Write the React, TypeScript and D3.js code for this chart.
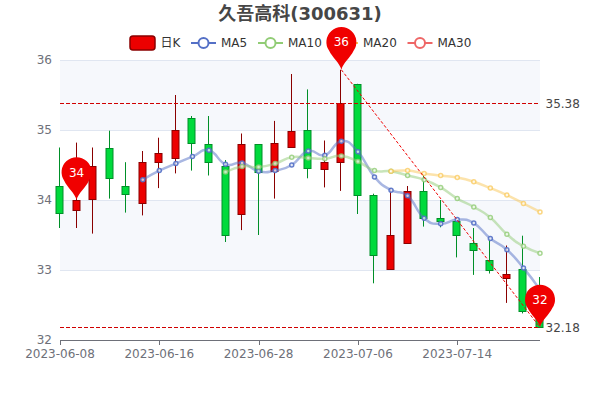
import React from 'react';
import * as d3 from 'd3';

const WIDTH = 600;
const HEIGHT = 400;
const margin = { top: 60, right: 60, bottom: 60, left: 60 };

const title = '久吾高科(300631)';

const dates = [
  '2023-06-08', '2023-06-09', '2023-06-12', '2023-06-13', '2023-06-14', '2023-06-15',
  '2023-06-16', '2023-06-19', '2023-06-20', '2023-06-21', '2023-06-26', '2023-06-27',
  '2023-06-28', '2023-06-29', '2023-06-30', '2023-07-03', '2023-07-04', '2023-07-05',
  '2023-07-06', '2023-07-07', '2023-07-10', '2023-07-11', '2023-07-12', '2023-07-13',
  '2023-07-14', '2023-07-17', '2023-07-18', '2023-07-19', '2023-07-20', '2023-07-21',
];

// open, close, low, high per day
const opens = [
  34.2, 33.85, 34.01, 34.74, 34.2, 33.96, 34.55, 34.6, 35.17, 34.8,
  34.49, 33.8, 34.8, 34.42, 34.76, 35.0, 34.44, 34.55, 35.66, 34.07,
  33.02, 33.38, 34.13, 33.74, 33.7, 33.39, 33.14, 32.89, 33.01, 32.42,
];
const closes = [
  33.82, 34.0, 34.48, 34.31, 34.09, 34.55, 34.67, 35.0, 34.81, 34.55,
  33.5, 34.8, 34.4, 34.81, 34.99, 34.45, 34.55, 35.38, 34.07, 33.22,
  33.5, 34.13, 33.74, 33.7, 33.5, 33.28, 33.0, 32.94, 32.42, 32.18,
];
const lows = [
  33.6, 33.6, 33.52, 34.02, 33.82, 33.78, 34.17, 34.38, 34.42, 34.35,
  33.4, 33.57, 33.5, 34.02, 34.76, 34.31, 34.18, 34.13, 33.8, 32.81,
  33.02, 33.38, 33.62, 33.61, 33.18, 32.93, 32.95, 32.53, 32.38, 32.18,
];
const highs = [
  34.75, 34.82, 34.75, 34.99, 34.54, 34.7, 34.89, 35.5, 35.2, 35.2,
  34.57, 34.95, 34.8, 35.13, 35.8, 35.58, 34.85, 35.86, 35.66, 34.09,
  34.17, 34.2, 34.36, 34.0, 33.7, 33.6, 33.45, 33.35, 33.49, 32.9,
];

const ma5 = [
  null, null, null, null, null, 34.29, 34.42, 34.52, 34.62, 34.71,
  34.51, 34.53, 34.41, 34.42, 34.5, 34.7, 34.64, 34.84, 34.69, 34.33,
  34.14, 34.06, 33.74, 33.66, 33.72, 33.67, 33.45, 33.29, 33.03, 32.72,
];
const ma10 = [
  null, null, null, null, null, null, null, null, null, null,
  34.4, 34.48, 34.47, 34.52, 34.61, 34.6, 34.59, 34.63, 34.55, 34.42,
  34.41, 34.35, 34.29, 34.18, 34.02, 33.9, 33.75, 33.51, 33.34, 33.24,
];
const ma20 = [
  null, null, null, null, null, null, null, null, null, null,
  null, null, null, null, null, null, null, null, null, null,
  34.41, 34.42, 34.38, 34.35, 34.32, 34.26, 34.17, 34.07, 33.95, 33.83,
];

const yTicks = [32, 33, 34, 35, 36];
const xTickIndexes = [0, 6, 12, 18, 24];

const UP = '#ec0000';
const UP_BORDER = '#8a0000';
const DOWN = '#00da3c';
const DOWN_BORDER = '#008f28';
const MARK = '#d00000';
const PIN = '#f00000';
const AXIS = '#6e7079';

const lineSeries = [
  { name: 'MA5', values: ma5, color: '#5470c6', ring: 0.9 },
  { name: 'MA10', values: ma10, color: '#91cc75', ring: 0.8 },
  { name: 'MA20', values: ma20, color: '#fac858', ring: 0.75 },
];
const legendLines = [
  { name: 'MA5', color: '#5470c6', x: 191 },
  { name: 'MA10', color: '#91cc75', x: 258 },
  { name: 'MA20', color: '#fac858', x: 333 },
  { name: 'MA30', color: '#ee6666', x: 407.5 },
];

const font = '"DejaVu Sans", "Noto Sans CJK SC", sans-serif';

// teardrop with its tip on the given point
function pinPath(cx: number, tipY: number, r: number) {
  const cy = tipY - r * 1.85;
  const a = 0.62;
  const sx = r * Math.cos(a);
  const sy = r * Math.sin(a);
  const p = d3.path();
  p.moveTo(cx - sx, cy + sy);
  p.arc(cx, cy, r, Math.PI - a, a);
  p.bezierCurveTo(cx + sx * 0.75, cy + sy + r * 0.45, cx + 1.5, tipY - r * 0.45, cx, tipY);
  p.bezierCurveTo(cx - 1.5, tipY - r * 0.45, cx - sx * 0.75, cy + sy + r * 0.45, cx - sx, cy + sy);
  p.closePath();
  return { d: p.toString(), cy };
}

export default function App() {
  const x = d3.scalePoint<number>()
    .domain(d3.range(dates.length))
    .range([margin.left, WIDTH - margin.right]);
  const y = d3.scaleLinear()
    .domain([32, 36])
    .range([HEIGHT - margin.bottom, margin.top]);

  const line = d3.line<number | null>()
    .defined(d => d !== null)
    .x((_, i) => x(i)!)
    .y(d => y(d as number))
    .curve(d3.curveCardinal.tension(-0.5));

  const bodyWidth = 7;
  const maxClose = d3.max(closes)!;
  const minClose = d3.min(closes)!;
  const maxIdx = highs.indexOf(d3.max(highs)!);
  const lastIdx = dates.length - 1;

  const pins = [
    { idx: maxIdx, value: highs[maxIdx], label: '36' },
    { idx: 1, value: closes[1], label: '34' },
    { idx: lastIdx, value: minClose, label: '32' },
  ];

  return (
    <svg width={WIDTH} height={HEIGHT} viewBox={`0 0 ${WIDTH} ${HEIGHT}`}
      style={{ position: 'absolute', left: 0, top: 0, fontFamily: font }}>
      <rect width={WIDTH} height={HEIGHT} fill="#fff" />

      {/* alternating bands */}
      {[35, 33].map(t => (
        <rect key={t} x={margin.left} width={WIDTH - margin.left - margin.right}
          y={y(t + 1)} height={y(t) - y(t + 1)} fill="#f6f8fc" />
      ))}
      {yTicks.map(t => (
        <g key={t}>
          {t > 32 && <line x1={margin.left} x2={WIDTH - margin.right} y1={y(t) + 0.5} y2={y(t) + 0.5} stroke="#e0e6f1" />}
          <text x={52} y={y(t)} dy="0.36em" textAnchor="end" fontSize={12} fill={AXIS}>{t}</text>
        </g>
      ))}

      {/* x axis */}
      <line x1={margin.left} x2={WIDTH - margin.right} y1={y(32) + 0.5} y2={y(32) + 0.5} stroke={AXIS} />
      {xTickIndexes.map(i => (
        <g key={i}>
          <line x1={Math.round(x(i)!) + 0.5} x2={Math.round(x(i)!) + 0.5} y1={y(32)} y2={y(32) + 5} stroke={AXIS} />
          <text x={x(i)!} y={y(32) + 18} textAnchor="middle" fontSize={12} fill={AXIS}>{dates[i]}</text>
        </g>
      ))}

      {/* candles */}
      {dates.map((_, i) => {
        const up = closes[i] >= opens[i];
        const stroke = up ? UP_BORDER : DOWN_BORDER;
        const top = Math.round(y(Math.max(opens[i], closes[i]))) + 0.5;
        const bottom = Math.round(y(Math.min(opens[i], closes[i]))) + 0.5;
        const cx = Math.round(x(i)!) - 0.5;
        return (
          <g key={i} stroke={stroke}>
            <line x1={cx} x2={cx} y1={y(highs[i])} y2={top} />
            <line x1={cx} x2={cx} y1={bottom} y2={y(lows[i])} />
            <rect x={cx - bodyWidth / 2} y={top} width={bodyWidth} height={Math.max(bottom - top, 1)}
              fill={up ? UP : DOWN} />
          </g>
        );
      })}

      {/* moving averages */}
      {lineSeries.map(s => (
        <g key={s.name}>
          <path d={line(s.values) ?? ''} fill="none" stroke={s.color} strokeWidth={2.5} strokeOpacity={0.5} />
          {s.values.map((v, i) => v === null ? null : (
            <circle key={i} cx={x(i)!} cy={y(v)} r={2} fill="#fff" fillOpacity={0.7}
              stroke={s.color} strokeOpacity={s.ring} strokeWidth={1.5} />
          ))}
        </g>
      ))}

      {/* mark lines */}
      {[maxClose, minClose].map(v => (
        <g key={v}>
          <line x1={margin.left} x2={WIDTH - margin.right} y1={Math.floor(y(v)) + 0.5} y2={Math.floor(y(v)) + 0.5}
            stroke={MARK} strokeDasharray="4 2" />
          <text x={545.5} y={y(v)} dy="0.36em" fontSize={12} fill="#464646">{d3.format('.2f')(v)}</text>
        </g>
      ))}
      <line x1={x(maxIdx)!} y1={y(highs[maxIdx])} x2={x(lastIdx)!} y2={y(minClose)}
        stroke={PIN} strokeDasharray="3 2" />

      {/* title and legend */}
      <text x={WIDTH / 2} y={20} textAnchor="middle" fontSize={18} fontWeight="bold" fill="#464646">{title}</text>
      <rect x={130} y={36} width={25} height={14} rx={3} fill={UP} stroke={UP_BORDER} strokeWidth={1.5} />
      <text x={160.5} y={43} dy="0.36em" fontSize={12} fill="#333">日K</text>
      {legendLines.map(l => (
        <g key={l.name}>
          <line x1={l.x} x2={l.x + 25} y1={43} y2={43} stroke={l.color} strokeWidth={2} />
          <circle cx={l.x + 12.5} cy={43} r={5} fill="#fff" stroke={l.color} strokeWidth={2} />
          <text x={l.x + 30} y={43} dy="0.36em" fontSize={12} fill="#333">{l.name}</text>
        </g>
      ))}

      {/* max / min pins */}
      {pins.map(p => {
        const { d, cy } = pinPath(x(p.idx)!, y(p.value), 15);
        return (
          <g key={p.label}>
            <path d={d} fill={PIN} />
            <text x={x(p.idx)!} y={cy} dy="0.36em" textAnchor="middle" fontSize={12} fill="#fff">{p.label}</text>
          </g>
        );
      })}
    </svg>
  );
}
